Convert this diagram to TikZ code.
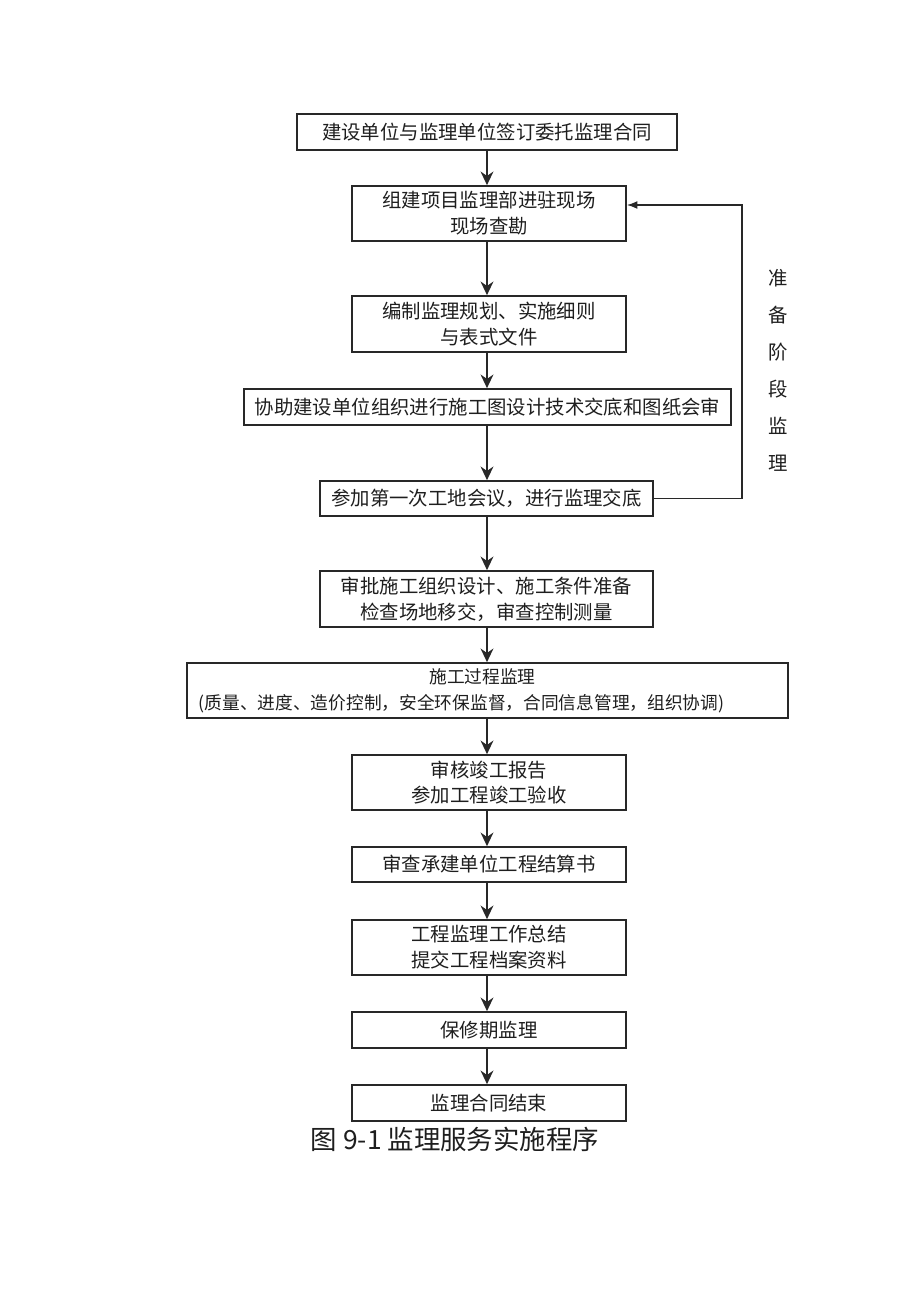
\documentclass[tikz,border=0pt]{standalone}
\usepackage{fontspec}
\setmainfont{Noto Sans CJK SC}
\usepackage{tikz}
\usetikzlibrary{arrows,positioning,calc,arrows.meta}
\definecolor{boxline}{RGB}{40,40,40}
\definecolor{textgray}{RGB}{30,30,30}
\tikzset{>=Latex}
\tikzset{stagebox/.style={draw=boxline,line width=1.2pt,align=center,inner sep=0pt,
    text=textgray,font=\fontsize{13.8pt}{18.4pt}\selectfont}}
\tikzset{flow/.style={-{Stealth[length=3.4mm,width=3.2mm]},line width=1.3pt,boxline}}

\begin{document}
\begin{tikzpicture}[x=0.025cm,y=-0.025cm]
            \useasboundingbox (0,0) rectangle (920,1303);
            \node [stagebox,minimum width=380*0.025cm,minimum height=36*0.025cm] (contract) at (487,132) {建设单位与监理单位签订委托监理合同};
            \node [stagebox,minimum width=274*0.025cm,minimum height=55*0.025cm] (setup) at (489,213.5) {组建项目监理部进驻现场\\现场查勘};
            \node [stagebox,minimum width=274*0.025cm,minimum height=56*0.025cm] (plan) at (489,324) {编制监理规划、实施细则\\与表式文件};
            \node [stagebox,minimum width=487*0.025cm,minimum height=36*0.025cm] (design) at (487.5,407) {协助建设单位组织进行施工图设计技术交底和图纸会审};
            \node [stagebox,minimum width=333*0.025cm,minimum height=35*0.025cm] (meeting) at (486.5,498.5) {参加第一次工地会议，进行监理交底};
            \node [stagebox,minimum width=333*0.025cm,minimum height=56*0.025cm] (approve) at (486.5,599) {审批施工组织设计、施工条件准备\\检查场地移交，审查控制测量};
            \node [stagebox,minimum width=601*0.025cm,minimum height=55*0.025cm,font=\fontsize{12.6pt}{18.4pt}\selectfont] (process) at (487.5,690.5) {施工过程监理\hspace*{0.25cm}\\(质量、进度、造价控制，安全环保监督，合同信息管理，组织协调)\hspace*{1.3cm}};
            \node [stagebox,minimum width=274*0.025cm,minimum height=55*0.025cm] (accept) at (489,782.5) {审核竣工报告\\参加工程竣工验收};
            \node [stagebox,minimum width=274*0.025cm,minimum height=35*0.025cm] (settle) at (489,864.5) {审查承建单位工程结算书};
            \node [stagebox,minimum width=274*0.025cm,minimum height=55*0.025cm] (summary) at (489,947.5) {工程监理工作总结\\提交工程档案资料};
            \node [stagebox,minimum width=274*0.025cm,minimum height=36*0.025cm] (warranty) at (489,1030) {保修期监理};
            \node [stagebox,minimum width=274*0.025cm,minimum height=36*0.025cm] (finish) at (489,1103) {监理合同结束};
            \node [font=\fontsize{18.8pt}{20pt}\selectfont,text=textgray] (caption) at (455,1139) {图 9-1 监理服务实施程序};
            \node [align=center,text=textgray,font=\fontsize{13.8pt}{26.3pt}\selectfont] (stage) at (778,370) {准\\备\\阶\\段\\监\\理};
            \coordinate (loop) at (742,205);
            \draw [flow] (contract.south) -- (contract|-setup.north);
            \draw [flow] (setup.south-|contract) -- (contract|-plan.north);
            \draw [flow] (plan.south-|contract) -- (contract|-design.north);
            \draw [flow] (design.south-|contract) -- (contract|-meeting.north);
            \draw [flow] (meeting.south-|contract) -- (contract|-approve.north);
            \draw [flow] (approve.south-|contract) -- (contract|-process.north);
            \draw [flow] (process.south-|contract) -- (contract|-accept.north);
            \draw [flow] (accept.south-|contract) -- (contract|-settle.north);
            \draw [flow] (settle.south-|contract) -- (contract|-summary.north);
            \draw [flow] (summary.south-|contract) -- (contract|-warranty.north);
            \draw [flow] (warranty.south-|contract) -- (contract|-finish.north);
            \draw [->,line width=1pt,boxline] (meeting.east) -| (loop) -- (loop-|setup.east);
         \end{tikzpicture}
\end{document}
